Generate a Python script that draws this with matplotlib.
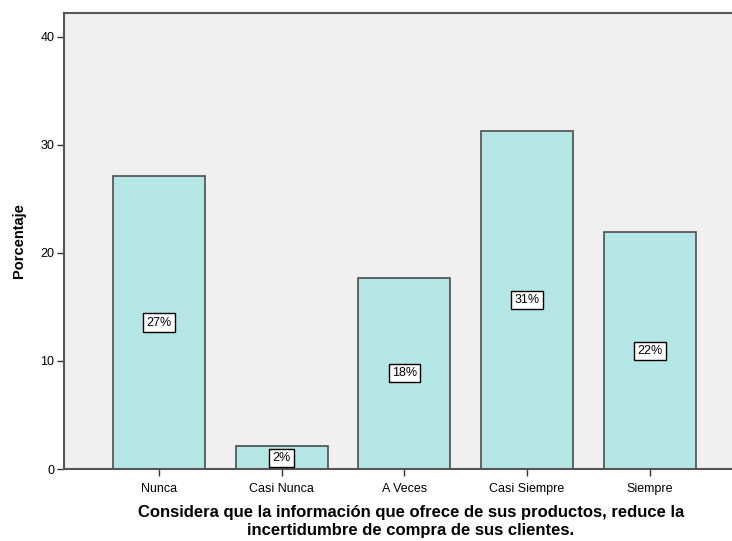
import matplotlib.pyplot as plt

plt.rcParams['font.family'] = ['Liberation Sans', 'DejaVu Sans']

categorias = ['Nunca', 'Casi Nunca', 'A Veces', 'Casi Siempre', 'Siempre']
porcentajes = [27.1, 2.1, 17.7, 31.3, 21.9]
etiquetas = ['27%', '2%', '18%', '31%', '22%']
titulo = ['Considera que la información que ofrece de sus productos, reduce la',
          'incertidumbre de compra de sus clientes.']

fig = plt.figure(figsize=(7.32, 5.41), dpi=100)
ax = fig.add_axes([64 / 732, 1 - 469 / 541, 1 - 64 / 732 + 0.03, (469 - 13) / 541])
ax.set_facecolor('#F0F0F0')

x = range(len(categorias))
ax.bar(x, porcentajes, width=0.75, color='#B5E6E6', edgecolor='#4D4D4D', linewidth=1.2, zorder=2)

# etiqueta de porcentaje en la mitad de cada barra
for i, (v, t) in enumerate(zip(porcentajes, etiquetas)):
    ax.text(i, v / 2, t, ha='center', va='center', fontsize=9, color='black', zorder=3,
            bbox=dict(boxstyle='square,pad=0.25', facecolor='white', edgecolor='black', linewidth=1))

ax.set_xlim(-0.774, 4.67 + 0.03 * 732 / 122.7)
ax.set_ylim(0, 42.2)
ax.set_yticks([0, 10, 20, 30, 40])
ax.set_xticks(list(x))
ax.set_xticklabels(categorias, fontsize=9)
ax.tick_params(axis='y', labelsize=9, length=5, width=1, color='#333333', direction='out', pad=2)
ax.tick_params(axis='x', length=5, width=1, color='#333333', direction='out', pad=5)

for s in ax.spines.values():
    s.set_color('#555555')
    s.set_linewidth(1.5)

fig.text(19 / 732, 1 - 241 / 541, 'Porcentaje', rotation=90, ha='center', va='center',
         fontsize=10.5, fontweight='bold')

# título del eje x en dos renglones
for k, linea in enumerate(titulo):
    fig.text(411 / 732, 1 - (513 + 18 * k) / 541, linea,
             ha='center', va='center', fontsize=12, fontweight='bold')

fig.savefig('out.png', dpi=100, facecolor='white')
